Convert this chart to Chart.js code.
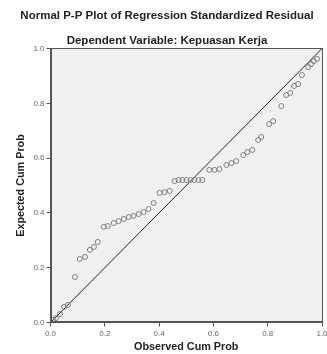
<!DOCTYPE html>
<html><head><meta charset="utf-8">
<script src="https://cdn.jsdelivr.net/npm/chart.js@4"></script>
<style>html,body{margin:0;padding:0;background:#fff}#wrap{width:327px;height:354px}</style>
</head><body><div id="wrap"><canvas id="c" width="327" height="354"></canvas></div>
<script>
const titleText = "Normal P-P Plot of Regression Standardized Residual";
const subtitleText = "Dependent Variable: Kepuasan Kerja";
const xTitle = "Observed Cum Prob";
const yTitle = "Expected Cum Prob";
const tickValues = [0, 0.2, 0.4, 0.6, 0.8, 1.0];
const observedCumProb = [0.009,0.020,0.035,0.050,0.064,0.090,0.108,0.127,0.145,0.160,0.174,0.196,0.211,0.233,0.251,0.270,0.288,0.306,0.325,0.343,0.361,0.380,0.402,0.420,0.439,0.457,0.472,0.486,0.501,0.516,0.530,0.545,0.559,0.585,0.604,0.622,0.648,0.666,0.684,0.710,0.725,0.743,0.765,0.776,0.805,0.820,0.850,0.868,0.883,0.897,0.912,0.926,0.949,0.960,0.970,0.982];
const expectedCumProb = [0.009,0.016,0.031,0.057,0.064,0.166,0.232,0.239,0.265,0.276,0.294,0.349,0.352,0.363,0.370,0.378,0.385,0.389,0.396,0.403,0.414,0.436,0.473,0.476,0.480,0.516,0.520,0.520,0.520,0.520,0.520,0.520,0.520,0.557,0.557,0.560,0.575,0.582,0.589,0.611,0.622,0.630,0.666,0.677,0.724,0.735,0.790,0.830,0.838,0.863,0.870,0.903,0.932,0.943,0.954,0.962];
const referenceLineX = [0, 1];
const referenceLineY = [0, 1];

const pts = observedCumProb.map((x, i) => ({x, y: expectedCumProb[i]}));
const refPts = referenceLineX.map((x, i) => ({x, y: referenceLineY[i]}));

const areaPlugin = {
  id: 'area',
  beforeDraw(chart) {
    const {ctx, chartArea: a} = chart;
    ctx.save();
    ctx.fillStyle = '#f0f0f0';
    ctx.fillRect(a.left, a.top, a.right - a.left, a.bottom - a.top);
    ctx.restore();
  },
  afterDraw(chart) {
    const {ctx, chartArea: a} = chart;
    ctx.save();
    ctx.strokeStyle = '#555';
    ctx.lineWidth = 1;
    ctx.strokeRect(Math.round(a.left) + 0.5, Math.round(a.top) + 0.5, Math.round(a.right - a.left) - 1, Math.round(a.bottom - a.top) - 1);
    ctx.restore();
  }
};

const tickFont = {family: 'Arial, Liberation Sans', size: 8};
const titleFont = {family: 'Arial, Liberation Sans', size: 11.5, weight: 'bold'};
const axisTitleFont = {family: 'Arial, Liberation Sans', size: 10.8, weight: 'bold'};

new Chart(document.getElementById('c'), {
  type: 'scatter',
  data: {
    datasets: [
      {data: refPts, showLine: true, borderColor: '#222', borderWidth: 1, pointRadius: 0, order: 2},
      {data: pts, pointStyle: 'circle', pointRadius: 2.5, backgroundColor: 'rgba(0,0,0,0)', borderColor: '#808080', borderWidth: 1, order: 1}
    ]
  },
  options: {
    responsive: false, animation: false, devicePixelRatio: 1,
    layout: {padding: {left: 11, right: 4, top: 0, bottom: 0}},
    plugins: {
      legend: {display: false}, tooltip: {enabled: false},
      title: {display: true, text: titleText, font: titleFont, color: '#222', padding: {top: 9.1, bottom: 11.2}},
      subtitle: {display: true, text: subtitleText, font: titleFont, color: '#222', padding: {top: 0, bottom: 0.6}}
    },
    scales: {
      x: {
        type: 'linear', min: 0, max: 1,
        afterBuildTicks: s => { s.ticks = tickValues.map(v => ({value: v})); },
        ticks: {font: tickFont, color: '#666', padding: 2, maxRotation: 0, callback: v => Number(v).toFixed(1)},
        grid: {display: true, drawOnChartArea: false, drawTicks: true, tickLength: 4, color: '#555'},
        border: {display: true, color: '#555'},
        title: {display: true, text: xTitle, font: axisTitleFont, color: '#222', padding: {top: 0, bottom: 0}},
        afterFit: s => { s.height = 31.5; s.paddingLeft = 0; s.paddingRight = 0; }
      },
      y: {
        type: 'linear', min: 0, max: 1,
        afterBuildTicks: s => { s.ticks = tickValues.map(v => ({value: v})); },
        ticks: {font: tickFont, color: '#666', padding: 2, callback: v => Number(v).toFixed(1)},
        grid: {display: true, drawOnChartArea: false, drawTicks: true, tickLength: 4, color: '#555'},
        border: {display: true, color: '#555'},
        title: {display: true, text: yTitle, font: axisTitleFont, color: '#222', padding: {top: 3.5, bottom: 0}},
        afterFit: s => { s.width = 39.5; s.paddingTop = 0; s.paddingBottom = 0; }
      }
    }
  },
  plugins: [areaPlugin]
});
</script></body></html>
